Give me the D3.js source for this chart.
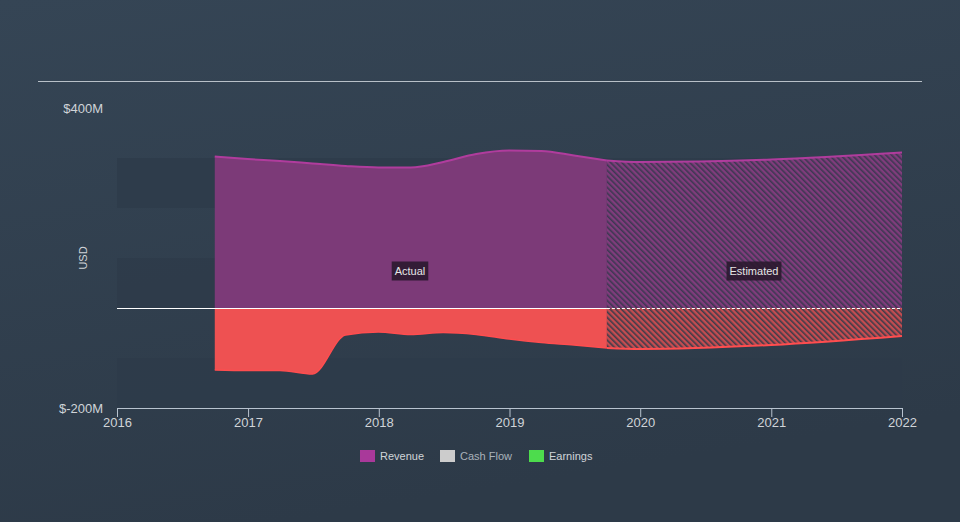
<!DOCTYPE html>
<html>
<head>
<meta charset="utf-8">
<script src="https://cdn.jsdelivr.net/npm/d3@7"></script>
<style>
html,body{margin:0;padding:0;background:#2f3d4c;}
svg{display:block;font-family:"Liberation Sans",Arial,Helvetica,sans-serif;}
</style>
</head>
<body>
<svg id="chart" width="960" height="522"></svg>
<script>
// ---- data ----
const revenueDates = ["2016-09-30","2016-12-31","2017-03-31","2017-06-30","2017-09-30","2017-12-31","2018-03-31","2018-06-30","2018-09-30","2018-12-31","2019-03-31","2019-06-30","2019-09-30"];
const revenueActual = [303,298,294,289,284,281,281,292,308,315,314,305,295];
const earningsActual = [-124,-125,-125,-132,-54,-48,-53,-49,-53,-62,-69,-74,-80];
const estimateDates = ["2019-09-30","2020-01-01","2021-01-01","2022-01-01"];
const revenueEstimate = [295,292,297,311];
const earningsEstimate = [-80,-82,-74,-56];
const yTicks = [400,-200];
const xTickYears = [2016,2017,2018,2019,2020,2021,2022];
const legendItems = ["Revenue","Cash Flow","Earnings"];
const legendColors = ["#a9399a","#cccccc","#4ddc4d"];

const W = 960, H = 522;
const svg = d3.select("#chart");
const parse = d3.timeParse("%Y-%m-%d");

// background
const defs = svg.append("defs");
const bg = defs.append("linearGradient").attr("id","bg").attr("x1","0").attr("y1","0").attr("x2","0.3").attr("y2","1");
bg.append("stop").attr("offset","0").attr("stop-color","#354555");
bg.append("stop").attr("offset","1").attr("stop-color","#2d3a48");
svg.append("rect").attr("width",W).attr("height",H).attr("fill","url(#bg)");

function hatch(id, base, line){
  const p = defs.append("pattern").attr("id",id).attr("patternUnits","userSpaceOnUse")
    .attr("width",4).attr("height",4).attr("patternTransform","rotate(-45)");
  p.append("rect").attr("width",4).attr("height",4).attr("fill",base);
  p.append("rect").attr("width",1.6).attr("height",4).attr("fill",line);
}
hatch("hRev","#803c7c","#3d3852");
hatch("hEarn","#c44c50","#3e3c4a");

const x = d3.scaleTime().domain([parse("2016-01-01"), parse("2022-01-01")]).range([117, 902]);
const y = d3.scaleLinear().domain([-200, 400]).range([408, 108]);

// bands
[[300,200],[100,0],[-100,-200]].forEach(b=>{
  svg.append("rect").attr("x",117).attr("width",785)
    .attr("y",y(b[0])).attr("height",y(b[1])-y(b[0])).attr("fill","#2e3b4a").attr("opacity",0.75);
});

// top rule
svg.append("line").attr("x1",38).attr("x2",922).attr("y1",81.5).attr("y2",81.5).attr("stroke","#b8c0c8").attr("stroke-width",1);

const act = revenueDates.map((d,i)=>({d:parse(d), r:revenueActual[i], e:earningsActual[i]}));
const est = estimateDates.map((d,i)=>({d:parse(d), r:revenueEstimate[i], e:earningsEstimate[i]}));

const curve = d3.curveMonotoneX;
const areaR = d3.area().x(d=>x(d.d)).y0(y(0)).y1(d=>y(d.r)).curve(curve);
const areaE = d3.area().x(d=>x(d.d)).y0(y(0)).y1(d=>y(d.e)).curve(curve);
const lineR = d3.line().x(d=>x(d.d)).y(d=>y(d.r)).curve(curve);
const lineE = d3.line().x(d=>x(d.d)).y(d=>y(d.e)).curve(curve);

svg.append("path").datum(act).attr("d",areaR).attr("fill","#7c3a78");
svg.append("path").datum(est).attr("d",areaR).attr("fill","url(#hRev)");
svg.append("path").datum(act).attr("d",areaE).attr("fill","#ee5152");
svg.append("path").datum(est).attr("d",areaE).attr("fill","url(#hEarn)");

svg.append("path").datum(act).attr("d",lineR).attr("fill","none").attr("stroke","#b03c9d").attr("stroke-width",2);
svg.append("path").datum(est).attr("d",lineR).attr("fill","none").attr("stroke","#b03c9d").attr("stroke-width",2);
svg.append("path").datum(act).attr("d",lineE).attr("fill","none").attr("stroke","#ff4d4f").attr("stroke-width",1.5);
svg.append("path").datum(est).attr("d",lineE).attr("fill","none").attr("stroke","#ff4d4f").attr("stroke-width",2);

// zero line
const zy = Math.round(y(0)) + 0.5;
svg.append("line").attr("x1",117).attr("x2",x(parse("2019-09-30"))).attr("y1",zy).attr("y2",zy).attr("stroke","#ffffff").attr("stroke-width",1);
svg.append("line").attr("x1",x(parse("2019-09-30"))).attr("x2",902).attr("y1",zy).attr("y2",zy).attr("stroke","#ffffff").attr("stroke-width",1).attr("stroke-dasharray","3,2");

// axes
const xAxis = d3.axisBottom(x).tickValues(xTickYears.map(yr=>new Date(yr,0,1))).tickFormat(d3.timeFormat("%Y")).tickSize(9).tickSizeOuter(0);
const gx = svg.append("g").attr("transform","translate(0,408)").call(xAxis);
gx.select(".domain").attr("stroke","#b8c3cf");
gx.selectAll(".tick line").attr("stroke","#b8c3cf");
gx.selectAll(".tick text").attr("fill","#d0d4d8").attr("font-size",13).attr("dy","0.5em")
  .attr("font-family","'Liberation Sans',Arial,sans-serif");

svg.selectAll(".ylab").data(yTicks).enter().append("text")
  .attr("x",103).attr("y",d=>y(d)).attr("dy","0.35em").attr("text-anchor","end")
  .attr("fill","#d0d4d8").attr("font-size",13).text(d=>d<0?"$-"+Math.abs(d)+"M":"$"+d+"M");

svg.append("text").attr("transform","translate(87,258) rotate(-90)").attr("text-anchor","middle")
  .attr("fill","#d0d4d8").attr("font-size",11).text("USD");

// region labels
function tag(cx, cy, txt){
  const g = svg.append("g");
  const t = g.append("text").attr("x",cx).attr("y",cy).attr("dy","0.35em").attr("text-anchor","middle")
    .attr("fill","#e6e6e6").attr("font-size",11).text(txt);
  const bb = t.node().getBBox();
  g.insert("rect","text").attr("x",bb.x-3).attr("y",cy-9.5).attr("width",bb.width+6).attr("height",19).attr("fill","#2b1a2f").attr("opacity",0.9);
}
tag(410,271,"Actual");
tag(754,271,"Estimated");

// legend
const lx = [360,440,529];
legendItems.forEach((name,i)=>{
  svg.append("rect").attr("x",lx[i]).attr("y",450).attr("width",15).attr("height",12).attr("fill",legendColors[i]);
  svg.append("text").attr("x",lx[i]+20).attr("y",456).attr("dy","0.35em").attr("fill",i===1?"#aab2ba":"#d0d4d8")
    .attr("font-size",11).text(name);
});
</script>
</body>
</html>
